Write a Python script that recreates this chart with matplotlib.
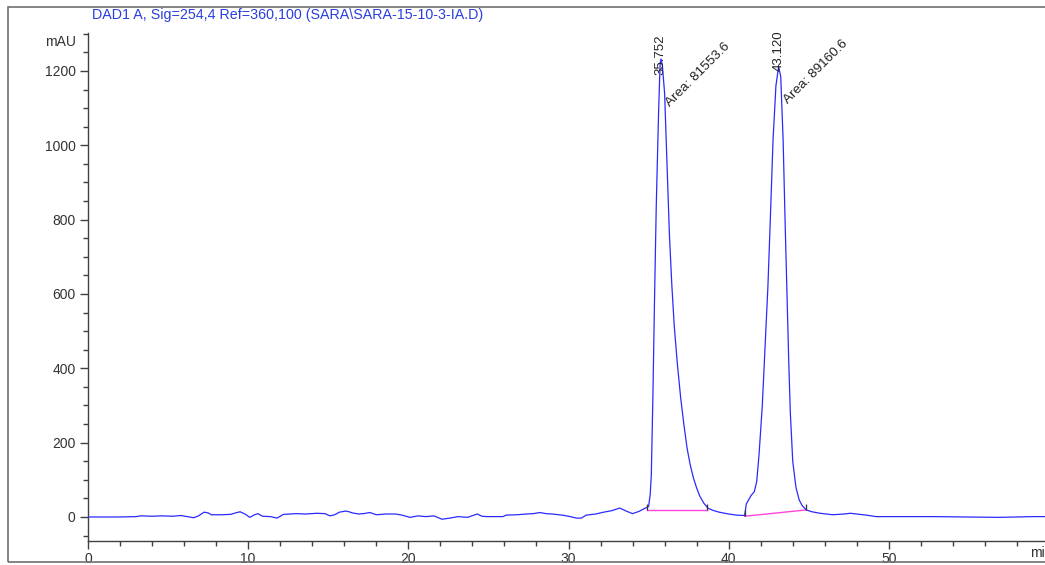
import matplotlib
matplotlib.use("Agg")
import matplotlib.pyplot as plt
from matplotlib.patches import Rectangle
from matplotlib.ticker import MultipleLocator

# Detector trace: retention time (min) and absorbance (mAU)
time_min = [
    0.0, 1.0, 2.0, 3.0, 3.3, 4.0, 4.6, 5.3, 5.8, 6.2, 6.6, 6.9, 7.25, 7.5, 7.7,
    8.3, 8.9, 9.3, 9.5, 9.8, 10.1, 10.4, 10.6, 10.9, 11.4, 11.8, 12.2, 12.6,
    13.0, 13.6, 14.3, 14.8, 15.1, 15.4, 15.7, 16.1, 16.3, 16.5, 16.9, 17.2,
    17.6, 18.0, 18.6, 19.2, 19.6, 20.1, 20.6, 21.1, 21.6, 22.1, 22.6, 23.1,
    23.7, 24.3, 24.6, 24.9, 25.9, 26.1, 26.8, 27.35, 27.8, 28.2, 28.6, 29.0,
    29.6, 30.0, 30.5, 30.8, 31.1, 31.7, 32.2, 32.7, 33.2, 33.6, 34.0, 34.4,
    34.8, 35.0, 35.1, 35.17, 35.27, 35.37, 35.48, 35.63, 35.72, 35.78, 35.86,
    36.0, 36.17, 36.3, 36.45, 36.6, 36.8, 37.0, 37.2, 37.4, 37.6, 37.8, 38.0,
    38.2, 38.45, 38.7, 39.0, 39.4, 40.0, 40.5, 41.0, 41.1, 41.4, 41.6, 41.75,
    41.9, 42.1, 42.3, 42.45, 42.6, 42.77, 42.95, 43.12, 43.25, 43.4, 43.52,
    43.65, 43.75, 43.85, 44.0, 44.2, 44.4, 44.6, 44.85, 45.2, 45.7, 46.5, 47.2,
    47.6, 48.0, 48.6, 49.2, 50.0, 52.8, 55.0, 56.9, 59.0, 59.75,
]
signal_mau = [
    0, 0, 0, 1, 3, 2, 3, 2, 4, 1, -2, 3, 13, 11, 6,
    6, 7, 12, 14, 8, -1, 6, 9, 2, 1, -3, 7, 8,
    9, 8, 10, 9, 3, 6, 13, 16, 14, 11, 8, 9,
    12, 6, 8, 8, 5, -1, 3, 1, 3, -6, -3, 1,
    -1, 8, 2, 1, 1, 5, 6, 8, 9, 12, 9, 8,
    5, 2, -3, -3, 5, 8, 13, 17, 24, 16, 9, 15,
    24, 28, 60, 113, 326, 584, 839, 1098, 1220, 1232, 1215,
    1140, 927, 760, 625, 515, 410, 322, 250, 186, 140, 105, 78,
    56, 37, 24, 18, 13, 8, 5, 4, 35, 58, 68, 95,
    170, 300, 480, 620, 800, 1014, 1160, 1212, 1185, 1014, 800,
    584, 420, 280, 150, 80, 46, 30, 19, 14, 10, 6, 8,
    10, 8, 5, 1, 1, 1, 0, -1, 1, 1,
]

# Integration results
peak_rt = [35.752, 43.120]
peak_area = [81553.6, 89160.6]
peak_label_height = [1195, 1204]
# Integration baselines: (start time, start mAU, end time, end mAU)
base_start_t = [34.88, 41.0]
base_start_y = [19, 2]
base_end_t = [38.65, 44.85]
base_end_y = [19, 19]

title_text = "DAD1 A, Sig=254,4 Ref=360,100 (SARA\\SARA-15-10-3-IA.D)"

plt.rcParams["font.family"] = ["Liberation Sans", "DejaVu Sans"]

fig = plt.figure(figsize=(10.45, 5.65), dpi=100)
fig.patch.set_facecolor("white")

# outer frame of the report panel
frame = Rectangle((8 / 1045, 3 / 565), 1.2, (562 - 7) / 565,
                  transform=fig.transFigure, fill=False,
                  edgecolor="#707070", linewidth=1.2, clip_on=False)
fig.patches.append(frame)

ax = fig.add_axes([88 / 1045, 24 / 565, (1045 - 88) / 1045, (541 - 33) / 565])
ax.set_facecolor("none")

trace_color = "#2a2aff"
base_color = "#ff44dd"

ax.plot(time_min, signal_mau, color=trace_color, linewidth=0.9, zorder=3)

for i in range(len(peak_rt)):
    ax.plot([base_start_t[i], base_end_t[i]], [base_start_y[i], base_end_y[i]],
            color=base_color, linewidth=1.0, zorder=2)
    ax.plot([base_start_t[i], base_end_t[i]], [base_start_y[i] + 8, base_end_y[i] + 8],
            linestyle="none", marker="|", markersize=5, color="#333333",
            markeredgewidth=0.9, zorder=4)
    ax.text(peak_rt[i], peak_label_height[i] - 5, f"{peak_rt[i]:.3f}",
            rotation=90, ha="center", va="bottom", fontsize=9.5,
            color="#222222", zorder=5)
    ax.text(peak_rt[i] + 0.6, peak_label_height[i] - 92,
            f"Area: {peak_area[i]:.1f}", rotation=45, rotation_mode="anchor",
            ha="left", va="baseline", fontsize=9.7, color="#222222", zorder=5)

ax.set_xlim(0, 59.75)
ax.set_ylim(-64.6, 1302)

for side in ("top", "right"):
    ax.spines[side].set_visible(False)
for side in ("left", "bottom"):
    ax.spines[side].set_color("#404040")
    ax.spines[side].set_linewidth(1.0)

ax.xaxis.set_major_locator(MultipleLocator(10))
ax.xaxis.set_minor_locator(MultipleLocator(2))
ax.yaxis.set_major_locator(MultipleLocator(200))
ax.yaxis.set_minor_locator(MultipleLocator(50))
ax.tick_params(axis="both", which="major", direction="out", length=6,
               width=1.0, color="#404040", labelsize=10, labelcolor="#333333")
ax.tick_params(axis="both", which="minor", direction="out", length=3.5,
               width=1.0, color="#404040")
ax.tick_params(axis="x", pad=2)
ax.tick_params(axis="y", pad=3)

fig.text(92 / 1045, 1 - 15 / 565, title_text, color="#2a3ee0",
         fontsize=10.3, ha="left", va="center")
fig.text(76 / 1045, 1 - 42 / 565, "mAU", color="#333333",
         fontsize=10, ha="right", va="center")
fig.text(1030 / 1045, 1 - 553 / 565, "min", color="#333333",
         fontsize=10, ha="left", va="center")

fig.savefig("out.png", dpi=100, facecolor="white")
